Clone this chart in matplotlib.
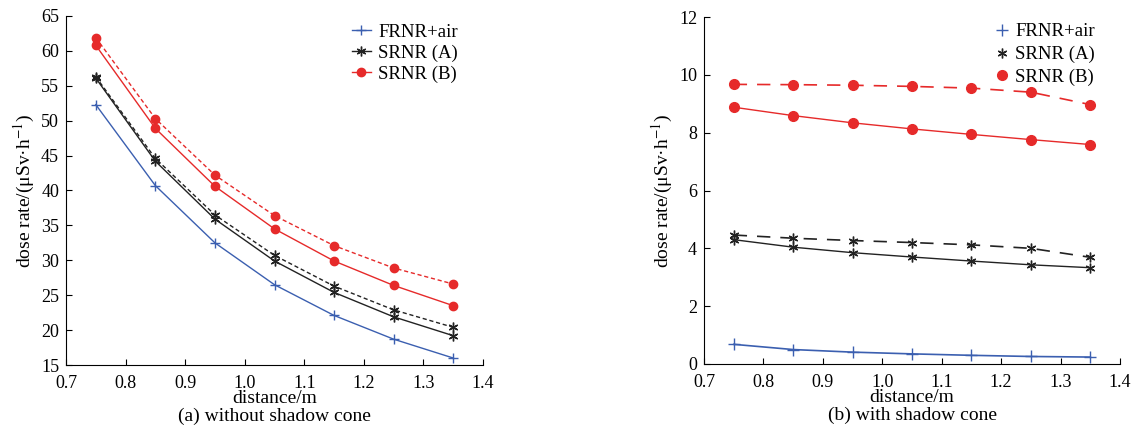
import numpy as np
import matplotlib.pyplot as plt

plt.rcParams['font.family'] = ['Liberation Serif', 'DejaVu Serif']
plt.rcParams['mathtext.fontset'] = 'stix'

distance = [0.75, 0.85, 0.95, 1.05, 1.15, 1.25, 1.35]

# (a) without shadow cone
a_frnr = [52.3, 40.7, 32.5, 26.5, 22.1, 18.7, 16.0]
a_srnr_a = [56.1, 44.2, 35.9, 29.9, 25.4, 21.9, 19.2]
a_srnr_a_dash = [56.3, 44.6, 36.5, 30.7, 26.3, 22.9, 20.4]
a_srnr_b = [60.8, 48.9, 40.6, 34.5, 29.9, 26.4, 23.5]
a_srnr_b_dash = [61.9, 50.3, 42.2, 36.4, 32.1, 28.9, 26.6]

# (b) with shadow cone
b_frnr = [0.68, 0.50, 0.41, 0.35, 0.30, 0.26, 0.24]
b_srnr_a = [4.30, 4.04, 3.85, 3.70, 3.56, 3.43, 3.33]
b_srnr_a_dash = [4.46, 4.35, 4.27, 4.20, 4.12, 4.00, 3.69]
b_srnr_b = [8.88, 8.59, 8.34, 8.13, 7.94, 7.76, 7.59]
b_srnr_b_dash = [9.67, 9.66, 9.64, 9.60, 9.54, 9.40, 8.97]

labels = ['FRNR+air', 'SRNR (A)', 'SRNR (B)']
blue, black, red = '#3b5fb0', '#222222', '#e62a2a'
star = (6, 2, 0)

fig = plt.figure(figsize=(11.39, 4.41), dpi=100)
ax1 = fig.add_axes([66/1139, 1-365/441, 417/1139, 349/441])
ax2 = fig.add_axes([704/1139, 1-364/441, 416/1139, 347/441])

ax1.plot(distance, a_frnr, color=blue, lw=1, marker='+', ms=7, mew=1, label=labels[0])
ax1.plot(distance, a_srnr_a, color=black, lw=1, marker=star, ms=7, mew=1, label=labels[1])
ax1.plot(distance, a_srnr_a_dash, color=black, lw=1, ls=(0, (3, 2)), marker=star, ms=7, mew=1)
ax1.plot(distance, a_srnr_b, color=red, lw=1, marker='o', ms=6, label=labels[2])
ax1.plot(distance, a_srnr_b_dash, color=red, lw=1, ls=(0, (3, 2)), marker='o', ms=6)

ax2.plot(distance, b_frnr, color=blue, lw=1.2, marker='+', ms=8, mew=1, label=labels[0])
ax2.plot(distance, b_srnr_a, color=black, lw=1, marker=star, ms=7, mew=1, label=labels[1])
ax2.plot(distance, b_srnr_a_dash, color=black, lw=1.2, ls=(0, (8, 6)), marker=star, ms=7, mew=1)
ax2.plot(distance, b_srnr_b, color=red, lw=1, marker='o', ms=7, label=labels[2])
ax2.plot(distance, b_srnr_b_dash, color=red, lw=1.2, ls=(0, (8, 6)), marker='o', ms=7)

ax1.set_ylim(15, 65)
ax1.set_yticks(np.arange(15, 66, 5))
ax2.set_ylim(0, 12)
ax2.set_yticks(np.arange(0, 13, 2))

for ax, cap in [(ax1, '(a) without shadow cone'), (ax2, '(b) with shadow cone')]:
    ax.set_xlim(0.7, 1.4)
    ax.set_xticks(np.arange(0.7, 1.41, 0.1))
    ax.set_xticklabels([f'{v:.1f}' for v in np.arange(0.7, 1.41, 0.1)])
    ax.spines['top'].set_visible(False)
    ax.spines['right'].set_visible(False)
    ax.tick_params(direction='in', labelsize=13, length=4)
    ax.tick_params(axis='x', pad=7)
    ax.tick_params(axis='y', pad=5)
    ax.set_xlabel('distance/m\n' + cap, fontsize=14, labelpad=-1, linespacing=1.0)
    ax.set_ylabel(r'dose rate/(μSv·h$^{-1}$)', fontsize=14, labelpad=3)

h, l = ax1.get_legend_handles_labels()
ax1.legend(h, l, loc='upper right', bbox_to_anchor=(0.98, 1.027), frameon=False,
           fontsize=13.5, handlelength=1.0, handletextpad=0.4, labelspacing=0.2)
h, l = ax2.get_legend_handles_labels()
leg = ax2.legend(h, l, loc='upper right', bbox_to_anchor=(0.98, 1.031), frameon=False,
                 fontsize=13.5, handlelength=0.6, handletextpad=0.4, labelspacing=0.3)
for ln in leg.get_lines():
    ln.set_linestyle('none')

fig.savefig('out.png', dpi=100)
